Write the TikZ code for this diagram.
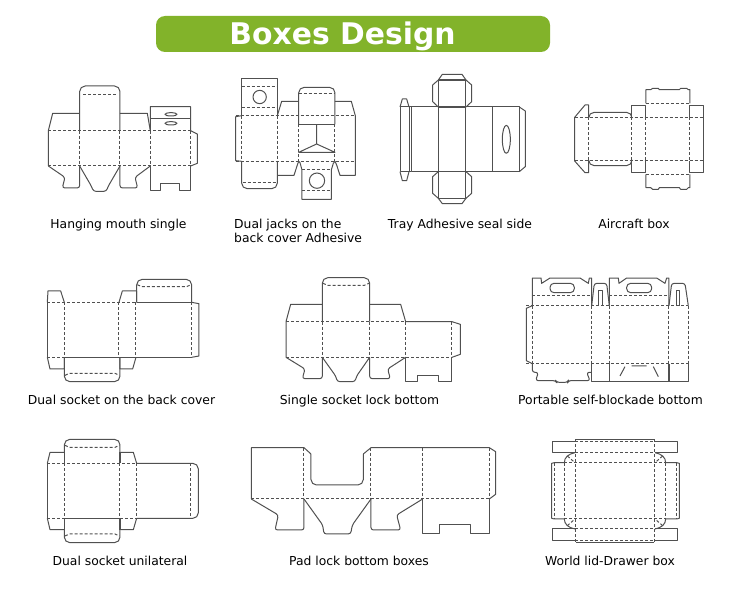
\documentclass[tikz,border=0pt]{standalone}
\usepackage{fontspec}
\setmainfont{DejaVu Sans}
\definecolor{bannergreen}{HTML}{82B32A}
\definecolor{linegray}{HTML}{505050}
\begin{document}
\begin{tikzpicture}[x=1pt,y=-1pt,
	cutline/.style={draw=linegray,line width=1pt,line join=round},
	heavyline/.style={draw=linegray,line width=1.5pt},
	foldline/.style={draw=linegray,line width=1pt,dash pattern=on 3pt off 2pt},
	notch/.style={cutline,rounded corners=2.5pt},
	tuck/.style={cutline,rounded corners=5.5pt},
	zoomed/.style 2 args={shift={(#1,#2)},x=.3333pt,y=-.3333pt},
	caption/.style={font=\fontsize{12.35}{14.5}\selectfont,text=black,inner sep=0pt,anchor=base}]
\useasboundingbox (0,0) rectangle (750,610);

\node[fill=bannergreen,rounded corners=9pt,minimum width=394pt,minimum height=36pt,inner sep=0pt] (banner) at (353,34) {};
\node[font=\fontsize{29.8}{32}\selectfont\bfseries,text=white,inner sep=0pt,anchor=base] (title) at (342.5,45) {Boxes Design};

% hanging mouth single
\begin{scope}[zoomed={30}{70}]
	\draw[cutline] (55,288) -- (55,182) -- (68,130) -- (149,130);
	\draw[tuck] (149,182) -- (149,48) -- (270,48) -- (270,182);
	\draw[cutline] (270,130) -- (352,130) -- (361,182);
	\draw[cutline] (361,182) -- (361,110) -- (482,110) -- (482,182) -- (502,192) -- (502,280) -- (482,288);
	\draw[cutline] (361,146) -- (482,146);
	\draw[cutline] (423,133) ellipse (18 and 5);
	\draw[cutline] (423,160) ellipse (18 and 5);
	\draw[foldline] (160,75) -- (258,75);
	\draw[foldline] (55,182) -- (482,182);
	\draw[foldline] (55,288) -- (482,288);
	\foreach \xa in {149,270,361,482} \draw[foldline] (\xa,182) -- (\xa,288);
	\draw[notch] (55,288) -- (105,322) -- (97,354) -- (149,354) -- (149,288);
	\draw[notch] (149,288) -- (185,350) -- (190,364) -- (229,364) -- (234,350) -- (270,288);
	\draw[notch] (270,288) -- (270,354) -- (323,354) -- (315,322) -- (361,288);
	\draw[cutline] (361,288) -- (361,362) -- (393,362) -- (393,342) -- (449,342) -- (449,362) -- (482,362) -- (482,288);
\end{scope}

% dual jacks
\begin{scope}[zoomed={220}{70}]
	\draw[cutline] (65,137) -- (65,25) -- (172,25) -- (172,137);
	\draw[foldline] (65,50) -- (172,50);
	\draw[foldline] (65,112) -- (172,112);
	\draw[cutline] (119,81) circle (20);
	\draw[cutline] (65,137) -- (47,140) -- (47,272) -- (65,274);
	\draw[cutline] (172,137) -- (185,94) -- (236,94);
	\draw[cutline] (345,94) -- (394,94) -- (406,137) -- (406,316) -- (360,316) -- (350,285) -- (345,274);
	\draw[tuck] (236,163) -- (236,52) -- (345,52) -- (345,163);
	\draw[foldline] (236,70) -- (345,70);
	\draw[foldline] (47,137) -- (406,137);
	\draw[foldline] (47,274) -- (406,274);
	\draw[cutline] (236,163) -- (345,163);
	\draw[cutline] (290,163) -- (290,222) -- (236,247) -- (345,247) -- (290,222);
	\foreach \xa in {65,172} \draw[foldline] (\xa,137) -- (\xa,274);
	\foreach \xa in {236,345} \draw[foldline] (\xa,163) -- (\xa,274);
	\draw[tuck] (65,274) -- (65,356) -- (172,356) -- (172,274);
	\draw[foldline] (68,337) -- (169,337);
	\draw[cutline] (172,316) -- (222,316) -- (232,285) -- (236,274) -- (240,278) -- (246,300) -- (246,388) -- (334,388) -- (334,300) -- (340,280) -- (345,274);
	\draw[foldline] (246,300) -- (334,300);
	\draw[foldline] (246,362) -- (334,362);
	\draw[cutline] (291,332) circle (23);
\end{scope}

% tray adhesive
\begin{scope}[zoomed={385}{65}]
	\draw[cutline] (78,126) rectangle (403,320);
	\draw[heavyline] (160,126) -- (243,126) (160,320) -- (243,320) (403,126) -- (403,320);
	\foreach \xa in {160,243,323} \draw[cutline] (\xa,126) -- (\xa,320);
	\draw[cutline] (45,126) rectangle (72,320);
	\draw[cutline] (72,126) -- (78,126) (72,320) -- (78,320);
	\draw[cutline] (45,126) -- (52,102) -- (65,102) -- (72,126);
	\draw[cutline] (45,320) -- (52,347) -- (65,347) -- (72,320);
	\draw[cutline] (403,126) -- (421,138) -- (421,305) -- (403,320);
	\draw[cutline] (364,223) ellipse (12 and 42);
	\draw[cutline] (160,126) -- (143,110) -- (143,60) -- (160,45) -- (172,28) -- (231,28) -- (243,45) -- (260,60) -- (260,110) -- (243,126);
	\draw[cutline] (160,320) -- (143,335) -- (143,385) -- (160,400) -- (172,416) -- (231,416) -- (243,400) -- (260,385) -- (260,335) -- (243,320);
	\draw[cutline] (160,45) -- (160,126) (243,45) -- (243,126) (160,320) -- (160,400) (243,320) -- (243,400);
	\draw[heavyline] (160,45) -- (243,45);
	\draw[cutline] (160,400) -- (243,400);
\end{scope}

% aircraft box
\begin{scope}[zoomed={560}{75}]
	\draw[cutline] (258,85) -- (258,44) -- (272,44) -- (278,40) -- (295,40) -- (298,44) -- (358,44) -- (362,40) -- (380,40) -- (385,44) -- (390,44) -- (390,85);
	\draw[cutline] (258,298) -- (258,338) -- (272,338) -- (278,343) -- (295,343) -- (298,338) -- (358,338) -- (362,343) -- (380,343) -- (385,338) -- (390,338) -- (390,298);
	\draw[foldline] (258,85) -- (390,85);
	\draw[foldline] (258,298) -- (390,298);
	\draw[foldline] (44,127) -- (430,127);
	\draw[foldline] (44,258) -- (430,258);
	\draw[cutline] (216,127) -- (216,91) -- (258,91) -- (258,127);
	\draw[cutline] (216,258) -- (216,293) -- (258,293) -- (258,258);
	\draw[cutline] (390,127) -- (390,91) -- (430,91) -- (430,293) -- (390,293) -- (390,258);
	\foreach \xa in {86,216,258,390} \draw[foldline] (\xa,127) -- (\xa,258);
	\draw[tuck] (86,127) -- (86,112) -- (216,112) -- (216,127);
	\draw[tuck] (86,258) -- (86,272) -- (216,272) -- (216,258);
	\draw[cutline] (86,127) -- (86,90) -- (75,90) -- (44,127) -- (44,258) -- (75,293) -- (86,293) -- (86,258);
\end{scope}

% dual socket back cover
\begin{scope}[zoomed={30}{270}]
	\draw[foldline] (52,97) -- (320,97);
	\draw[cutline] (320,97) -- (485,97);
	\draw[foldline] (52,262) -- (103,262);
	\draw[cutline] (103,262) -- (485,262);
	\draw[cutline] (52,97) -- (52,262);
	\foreach \xa in {103,267,318,485} \draw[foldline] (\xa,97) -- (\xa,262);
	\draw[cutline] (52,97) -- (54,63) -- (92,63) -- (103,97);
	\draw[cutline] (267,97) -- (277,63) -- (316,63) -- (320,63) -- (320,97);
	\draw[cutline] (52,262) -- (60,297) -- (103,297) -- (103,262);
	\draw[cutline] (270,262) -- (270,297) -- (308,297) -- (318,262);
	\draw[tuck] (320,97) -- (320,28) -- (485,28) -- (485,97);
	\draw[foldline] (322,44) -- (335,50) -- (470,50) -- (483,44);
	\draw[tuck] (103,262) -- (103,335) -- (270,335) -- (270,262);
	\draw[foldline] (105,316) -- (118,310) -- (255,310) -- (268,316);
	\draw[cutline] (485,97) -- (507,101) -- (507,258) -- (485,262);
\end{scope}

% single socket
\begin{scope}[zoomed={275}{270}]
	\draw[cutline] (33,262) -- (33,155) -- (47,103) -- (142,103);
	\draw[tuck] (142,155) -- (142,23) -- (284,23) -- (284,155);
	\draw[cutline] (284,103) -- (377,103) -- (392,155) -- (531,155) -- (556,163) -- (556,253) -- (531,262);
	\draw[foldline] (144,40) -- (158,46) -- (268,46) -- (282,40);
	\draw[foldline] (33,155) -- (392,155);
	\draw[foldline] (33,262) -- (531,262);
	\foreach \xa in {142,284,392,531} \draw[foldline] (\xa,155) -- (\xa,262);
	\draw[notch] (33,262) -- (90,297) -- (82,326) -- (142,326) -- (142,262);
	\draw[notch] (142,262) -- (182,318) -- (187,335) -- (240,335) -- (245,318) -- (284,262);
	\draw[notch] (284,262) -- (284,326) -- (346,326) -- (338,297) -- (392,262);
	\draw[cutline] (392,262) -- (392,335) -- (427,335) -- (427,316) -- (492,316) -- (492,335) -- (531,335) -- (531,262);
\end{scope}

% portable self-blockade
\begin{scope}[zoomed={515}{265}]
	\draw[cutline] (52,122) -- (52,39) -- (78,39) -- (80,55) -- (105,39) -- (195,39) -- (220,55) -- (223,39) -- (230,39) -- (230,122);
	\draw[cutline] (283,122) -- (283,39) -- (310,39) -- (312,55) -- (335,39) -- (425,39) -- (450,55) -- (455,39) -- (462,39) -- (462,122);
	\draw[cutline,rounded corners=4pt] (105,55) rectangle (178,83);
	\draw[cutline,rounded corners=4pt] (335,55) rectangle (410,83);
	\draw[notch] (230,122) -- (238,55) -- (275,55) -- (283,122);
	\draw[notch] (462,122) -- (470,55) -- (510,55) -- (520,122);
	\draw[cutline] (252,122) -- (252,78) -- (262,78) -- (262,122);
	\draw[cutline] (484,122) -- (484,78) -- (495,78) -- (495,122);
	\draw[foldline] (52,93) -- (230,93);
	\draw[foldline] (283,93) -- (462,93);
	\draw[foldline] (34,122) -- (520,122);
	\draw[foldline] (34,296) -- (520,296);
	\foreach \xa in {52,230,283,462,520} \draw[foldline] (\xa,122) -- (\xa,296);
	\draw[cutline] (52,122) -- (34,130) -- (34,287) -- (52,296);
	\draw[cutline] (230,296) -- (230,349) -- (520,349) -- (520,296);
	\draw[heavyline] (283,296) -- (283,349) (462,296) -- (462,349);
	\draw[cutline] (330,305) -- (315,333) (415,305) -- (430,335) (350,303) -- (395,303);
	\draw[notch] (52,296) -- (52,322) -- (70,322) -- (62,347) -- (122,347) -- (125,352) -- (158,352) -- (160,347) -- (225,347) -- (215,322) -- (230,322);
\end{scope}

% dual socket unilateral
\begin{scope}[zoomed={35}{430}]
	\draw[foldline] (37,100) -- (305,100);
	\draw[foldline] (37,265) -- (88,265);
	\draw[cutline] (88,265) -- (255,265);
	\draw[foldline] (255,265) -- (305,265);
	\draw[cutline] (37,100) -- (37,265);
	\foreach \xa in {88,255,305,468} \draw[foldline] (\xa,100) -- (\xa,265);
	\draw[tuck] (305,100) -- (490,100) -- (490,265) -- (305,265);
	\draw[cutline] (37,100) -- (45,67) -- (88,67);
	\draw[cutline] (255,67) -- (295,67) -- (305,100);
	\draw[cutline] (37,265) -- (45,299) -- (88,299);
	\draw[cutline] (255,299) -- (295,299) -- (305,265);
	\draw[heavyline] (88,67) -- (88,100) (255,67) -- (255,100) (88,265) -- (88,299) (255,265) -- (255,299);
	\draw[tuck] (88,67) -- (88,28) -- (255,28) -- (255,67);
	\draw[foldline] (90,46) -- (103,52) -- (240,52) -- (253,46);
	\draw[tuck] (88,299) -- (88,338) -- (255,338) -- (255,299);
	\draw[foldline] (90,318) -- (103,312) -- (240,312) -- (253,318);
\end{scope}

% pad lock bottom
\begin{scope}[zoomed={240}{435}]
	\draw[cutline] (34,192) -- (34,38) -- (192,38) -- (213,57);
	\draw[tuck] (213,57) -- (213,150) -- (370,150) -- (370,57);
	\draw[cutline] (370,57) -- (393,38) -- (748,38) -- (767,50) -- (767,178) -- (748,192);
	\draw[foldline] (34,192) -- (748,192);
	\foreach \xa in {192,393,548,748} \draw[foldline] (\xa,38) -- (\xa,192);
	\draw[notch] (34,192) -- (115,240) -- (105,285) -- (192,285) -- (192,192);
	\draw[notch] (192,192) -- (248,270) -- (252,297) -- (332,297) -- (337,270) -- (393,192);
	\draw[notch] (393,192) -- (393,285) -- (482,285) -- (470,240) -- (548,192);
	\draw[cutline] (548,192) -- (548,297) -- (600,297) -- (600,268) -- (692,268) -- (692,297) -- (748,297) -- (748,192);
\end{scope}

% world lid drawer
\begin{scope}[zoomed={540}{430}]
	\draw[cutline] (105,33) -- (38,33) -- (38,67) -- (105,67);
	\draw[cutline] (345,33) -- (412,33) -- (412,67) -- (345,67);
	\draw[cutline] (105,297) -- (38,297) -- (38,332) -- (105,332);
	\draw[cutline] (345,297) -- (412,297) -- (412,332) -- (345,332);
	\draw[cutline] (108,28) -- (342,28);
	\draw[cutline] (108,338) -- (342,338);
	\draw[foldline] (105,33) -- (345,33);
	\draw[foldline] (105,68) -- (345,68);
	\draw[foldline] (73,98) -- (377,98);
	\draw[foldline] (73,267) -- (377,267);
	\draw[foldline] (105,297) -- (345,297);
	\draw[foldline] (105,333) -- (345,333);
	\foreach \xa in {105,345} \draw[foldline] (\xa,28) -- (\xa,338);
	\foreach \xa in {43,73,377,410} \draw[foldline] (\xa,98) -- (\xa,267);
	\draw[foldline] (82,78) -- (105,98) (368,78) -- (345,98) (82,287) -- (105,267) (368,287) -- (345,267);
	\draw[cutline] (105,68) .. controls (85,72) and (73,82) .. (73,98);
	\draw[cutline] (345,68) .. controls (365,72) and (377,82) .. (377,98);
	\draw[cutline] (105,297) .. controls (85,293) and (73,283) .. (73,267);
	\draw[cutline] (345,297) .. controls (365,293) and (377,283) .. (377,267);
	\draw[cutline] (73,98) -- (43,98) -- (35,100) -- (35,265) -- (43,267) -- (73,267);
	\draw[cutline] (377,98) -- (410,98) -- (418,100) -- (418,265) -- (410,267) -- (377,267);
\end{scope}

\node[caption] (hanging) at (118.5,228) {Hanging mouth single};
\node[caption,align=left,anchor=base west] (jacks) at (234,242.5) {Dual jacks on the\\back cover Adhesive};
\node[caption] (tray) at (460,228) {Tray Adhesive seal side};
\node[caption] (aircraft) at (634,228) {Aircraft box};
\node[caption] (backcover) at (121.5,404) {Dual socket on the back cover};
\node[caption] (singlelock) at (359.5,404) {Single socket lock bottom};
\node[caption] (portable) at (610.5,404) {Portable self-blockade bottom};
\node[caption] (unilateral) at (120,565) {Dual socket unilateral};
\node[caption] (padlock) at (359,565) {Pad lock bottom boxes};
\node[caption] (world) at (610,565) {World lid-Drawer box};
\end{tikzpicture}
\end{document}
